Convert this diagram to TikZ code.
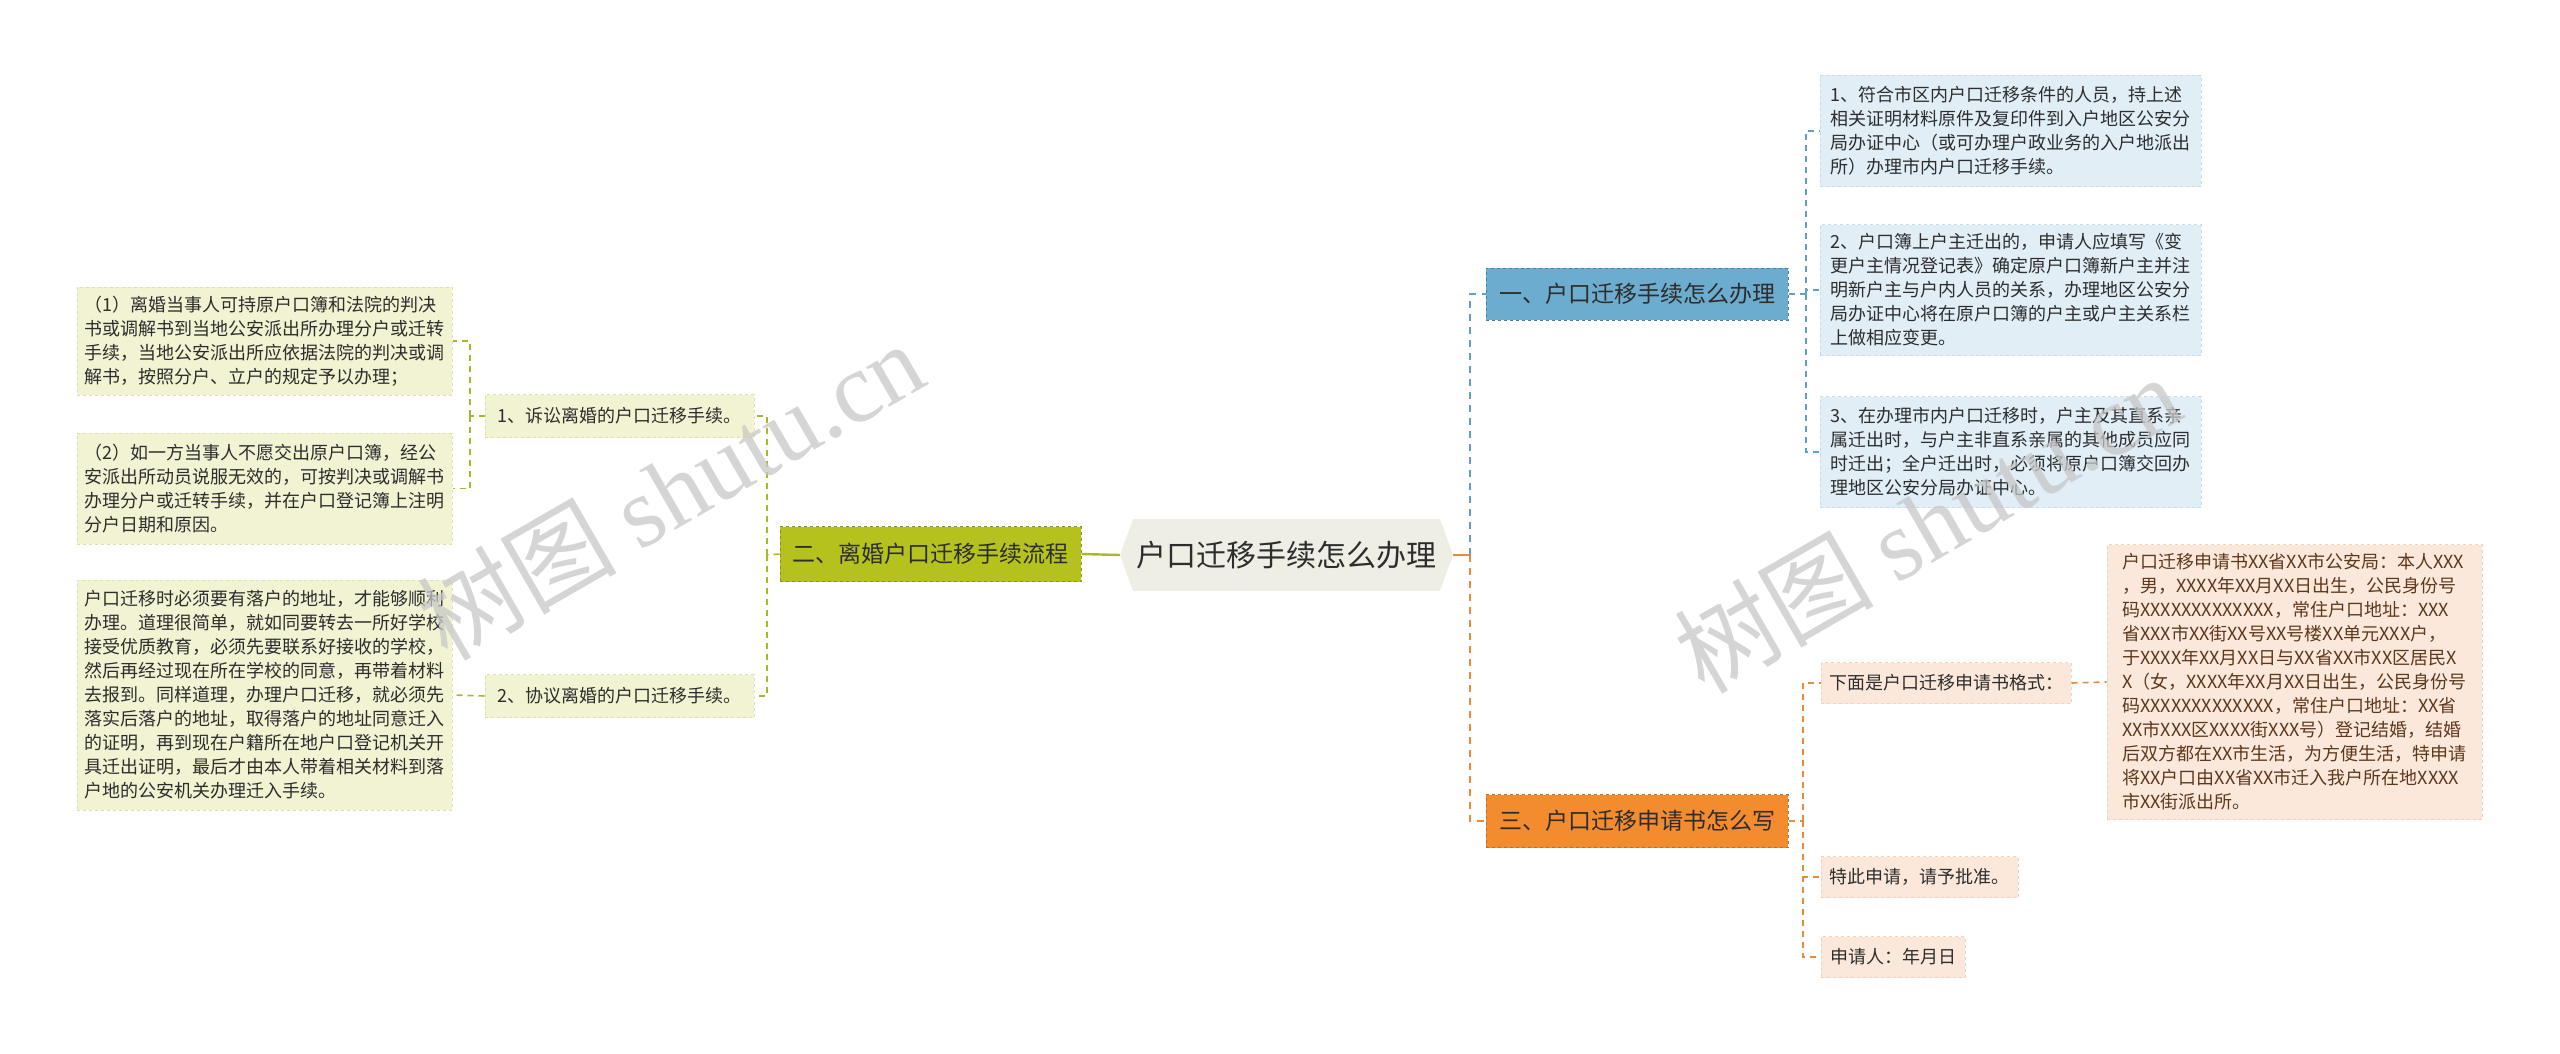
\documentclass[tikz,border=0pt]{standalone}
\usepackage{fontspec}
\setmainfont{Noto Sans CJK SC}
\newfontfamily\wmserif{Liberation Serif}
\usetikzlibrary{shapes.symbols}
\definecolor{txt}{RGB}{45,45,45}
\definecolor{brown}{RGB}{92,56,28}
\definecolor{hexfill}{RGB}{238,238,229}
\definecolor{olive}{RGB}{181,194,30}
\definecolor{oliveline}{RGB}{170,184,40}
\definecolor{olivepale}{RGB}{241,243,210}
\definecolor{oliveedge}{RGB}{222,226,170}
\definecolor{blue}{RGB}{107,172,207}
\definecolor{blueline}{RGB}{96,160,196}
\definecolor{bluepale}{RGB}{225,238,246}
\definecolor{blueedge}{RGB}{196,220,236}
\definecolor{orange}{RGB}{242,140,46}
\definecolor{orangeline}{RGB}{230,140,60}
\definecolor{peach}{RGB}{252,232,218}
\definecolor{peachedge}{RGB}{240,210,190}
\begin{document}
\begin{tikzpicture}[x=1pt,y=-1pt,
  small/.style={align=left, inner sep=0pt, text=txt, font=\fontsize{18}{24}\selectfont},
  lbox/.style={small, fill=olivepale, draw=oliveedge, dashed, line width=1pt},
  bbox/.style={small, fill=bluepale, draw=blueedge, dashed, line width=1pt},
  pbox/.style={small, fill=peach, draw=peachedge, dashed, line width=1pt},
  mainbox/.style={inner sep=0pt, text=txt, font=\fontsize{23}{28}\selectfont, dashed, line width=1pt},
  gconn/.style={draw=oliveline, dashed, dash pattern=on 6pt off 5pt, line width=1.6pt},
  bconn/.style={draw=blueline, dashed, dash pattern=on 6pt off 5pt, line width=1.6pt},
  oconn/.style={draw=orangeline, dashed, dash pattern=on 6pt off 5pt, line width=1.6pt},
  bmain/.style={draw=blueline, dashed, dash pattern=on 7pt off 6pt, line width=2.4pt},
  omain/.style={draw=orangeline, dashed, dash pattern=on 7pt off 6pt, line width=2.4pt},
  wm/.style={text=black!22, opacity=0.75, rotate=30, font=\fontsize{100}{100}\selectfont}
]
\useasboundingbox (0,0) rectangle (2560,1054);

% root
\node[signal, signal to=west and east, signal pointer angle=140, fill=hexfill,
  minimum width=333pt, minimum height=72pt, inner sep=0pt, text=txt,
  font=\fontsize{30}{36}\selectfont] (root) at (1286.5,555) {户口迁移手续怎么办理};

% left branch
\node[mainbox, fill=olive, draw=oliveline!80!black, minimum width=301pt, minimum height=55pt] (n2) at (930.5,554) {二、离婚户口迁移手续流程};
\node[lbox, minimum width=269pt, minimum height=43pt] (c21) at (619.5,416) {1、诉讼离婚的户口迁移手续。};
\node[lbox, minimum width=269pt, minimum height=43pt] (c22) at (619.5,696) {2、协议离婚的户口迁移手续。};
\node[lbox, minimum width=375pt, minimum height=108pt] (l1) at (264.5,341) {（1）离婚当事人可持原户口簿和法院的判决\\书或调解书到当地公安派出所办理分户或迁转\\手续，当地公安派出所应依据法院的判决或调\\解书，按照分户、立户的规定予以办理；};
\node[lbox, minimum width=375pt, minimum height=111pt] (l2) at (264.5,488.5) {（2）如一方当事人不愿交出原户口簿，经公\\安派出所动员说服无效的，可按判决或调解书\\办理分户或迁转手续，并在户口登记簿上注明\\分户日期和原因。};
\node[lbox, minimum width=375pt, minimum height=230pt] (l3) at (264.5,695) {户口迁移时必须要有落户的地址，才能够顺利\\办理。道理很简单，就如同要转去一所好学校\\接受优质教育，必须先要联系好接收的学校，\\然后再经过现在所在学校的同意，再带着材料\\去报到。同样道理，办理户口迁移，就必须先\\落实后落户的地址，取得落户的地址同意迁入\\的证明，再到现在户籍所在地户口登记机关开\\具迁出证明，最后才由本人带着相关材料到落\\户地的公安机关办理迁入手续。};

% right top branch
\node[mainbox, fill=blue, draw=blueline!80!black, minimum width=302pt, minimum height=52pt] (n1) at (1637,294) {一、户口迁移手续怎么办理};
\node[bbox, minimum width=381pt, minimum height=111pt] (r1) at (2010.5,131) {1、符合市区内户口迁移条件的人员，持上述\\相关证明材料原件及复印件到入户地区公安分\\局办证中心（或可办理户政业务的入户地派出\\所）办理市内户口迁移手续。};
\node[bbox, minimum width=381pt, minimum height=131pt] (r2) at (2010.5,290) {2、户口簿上户主迁出的，申请人应填写《变\\更户主情况登记表》确定原户口簿新户主并注\\明新户主与户内人员的关系，办理地区公安分\\局办证中心将在原户口簿的户主或户主关系栏\\上做相应变更。};
\node[bbox, minimum width=381pt, minimum height=111pt] (r3) at (2010.5,452) {3、在办理市内户口迁移时，户主及其直系亲\\属迁出时，与户主非直系亲属的其他成员应同\\时迁出；全户迁出时，必须将原户口簿交回办\\理地区公安分局办证中心。};

% right bottom branch
\node[mainbox, fill=orange, draw=orangeline!80!black, minimum width=302pt, minimum height=53pt] (n3) at (1637,821) {三、户口迁移申请书怎么写};
\node[pbox, minimum width=250pt, minimum height=41pt] (s1) at (1946,683) {下面是户口迁移申请书格式：};
\node[pbox, minimum width=197pt, minimum height=41pt] (s2) at (1919.5,877) {特此申请，请予批准。};
\node[pbox, minimum width=144pt, minimum height=41pt] (s3) at (1893,957) {申请人：年月日};
\node[pbox, text=brown, minimum width=375pt, minimum height=275pt] (letter) at (2294.5,682) {户口迁移申请书XX省XX市公安局：本人XXX\\，男，XXXX年XX月XX日出生，公民身份号\\码XXXXXXXXXXXXX，常住户口地址：XXX\\省XXX市XX街XX号XX号楼XX单元XXX户，\\于XXXX年XX月XX日与XX省XX市XX区居民X\\X（女，XXXX年XX月XX日出生，公民身份号\\码XXXXXXXXXXXXX，常住户口地址：XX省\\XX市XXX区XXXX街XXX号）登记结婚，结婚\\后双方都在XX市生活，为方便生活，特申请\\将XX户口由XX省XX市迁入我户所在地XXXX\\市XX街派出所。};

% connectors
\coordinate (gv) at (767,555);
\coordinate (lv) at (470,416);
\coordinate (rv) at (1470,555);
\coordinate (bv) at (1806,294);
\coordinate (ov) at (1803,821);
\draw[draw=oliveline, line width=2.4pt] (root.west) -- (n2.east);
\draw[gconn] (n2.west) -- (gv);
\draw[gconn] (gv) |- (c21.east);
\draw[gconn] (gv) |- (c22.east);
\draw[gconn] (c21.west) -- (lv);
\draw[gconn] (lv) |- (l1.east);
\draw[gconn] (lv) |- (l2.east);
\draw[gconn] (c22.west) -- (l3.east);
\draw[draw=orangeline, line width=2.4pt] (root.east) -- (rv);
\draw[bmain] (rv) |- (n1.west);
\draw[omain] (rv) |- (n3.west);
\draw[bconn] (n1.east) -- (bv);
\draw[bconn] (bv) |- (r1.west);
\draw[bconn] (bv) |- (r2.west);
\draw[bconn] (bv) |- (r3.west);
\draw[oconn] (n3.east) -- (ov);
\draw[oconn] (ov) |- (s1.west);
\draw[oconn] (ov) |- (s2.west);
\draw[oconn] (ov) |- (s3.west);
\draw[oconn] (s1.east) -- (letter.west);

% watermarks
\node[wm] (wm1) at (670,490) {树图 {\wmserif shutu.cn}};
\node[wm] (wm2) at (1927,523) {树图 {\wmserif shutu.cn}};
\end{tikzpicture}
\end{document}
